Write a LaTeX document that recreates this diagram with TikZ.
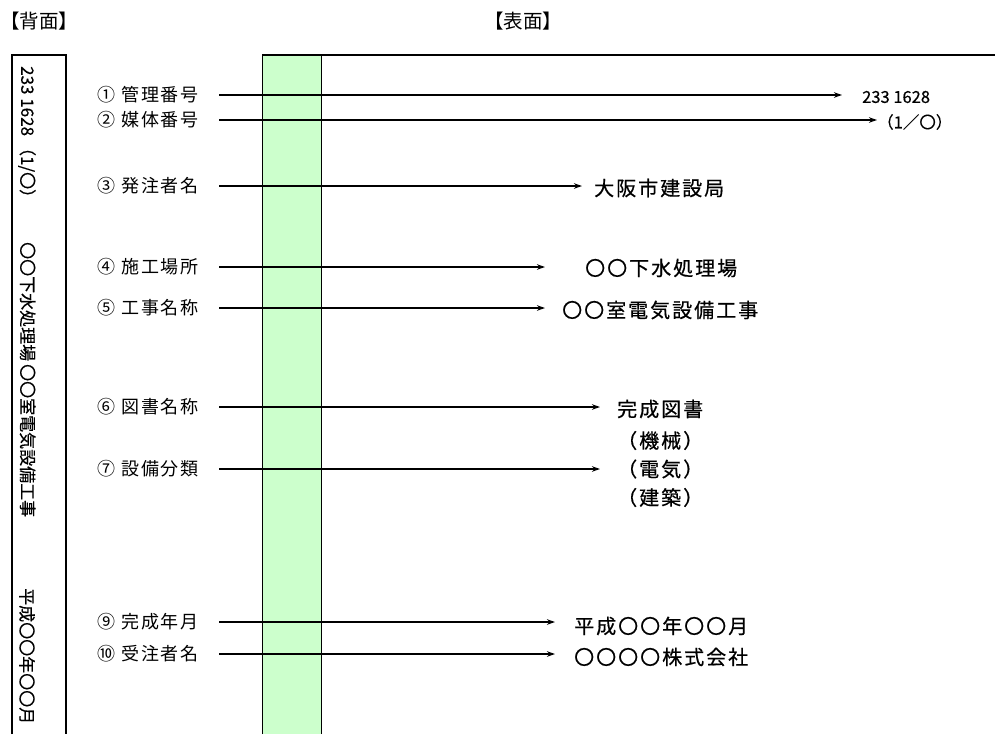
\documentclass[tikz,border=0pt]{standalone}
\usepackage{fontspec}
\setmainfont{Noto Sans CJK JP}
\newfontfamily\jp{Noto Sans CJK JP}
\newfontfamily\jpls[LetterSpace=10]{Noto Sans CJK JP}
\newfontfamily\jpbd[LetterSpace=10,FakeBold=0.6]{Noto Sans CJK JP}
\newfontfamily\jpsm[FakeBold=0.4]{Noto Sans CJK JP}
\usetikzlibrary{arrows.meta}
\definecolor{colgreen}{HTML}{CCFFCC}
\begin{document}
\begin{tikzpicture}[x=1pt,y=-1pt,
  lab/.style={anchor=east, inner sep=0pt, font=\jpls\fontsize{18}{18}\selectfont},
  val/.style={anchor=west, inner sep=0pt, font=\jpbd\fontsize{20}{20}\selectfont},
  small/.style={anchor=west, inner sep=0pt, font=\jpsm\fontsize{16.5}{16.5}\selectfont},
  head/.style={anchor=west, inner sep=0pt, font=\jp\fontsize{19.5}{19.5}\selectfont},
  back/.style={rotate=-90, anchor=west, inner sep=0pt, font=\jpsm\fontsize{17}{17}\selectfont},
  arr/.style={-{Stealth[length=8pt,width=5.5pt]}, line width=1.7pt},
  frame/.style={line width=1.3pt}
]
\useasboundingbox (0,0) rectangle (995,734);

% headers
\node[head] (hback) at (0,21) {【背面】};
\node[head] (hfront) at (484,21) {【表面】};

% back side strip
\draw[frame] (12,734) -- (12,55) -- (66,55) -- (66,734);
\node[back] (b1) at (27,66) {233 1628\hspace{3pt}（1/〇）\hspace{36pt}〇〇下水処理場\hspace{3pt}〇〇室電気設備工事};
\node[back] (b2) at (27,588) {平成〇〇年〇〇月};

% front side
\fill[colgreen] (262,55) rectangle (321,734);
\draw[line width=1pt] (262,734) -- (262,55);
\draw[line width=1pt] (321,734) -- (321,55);
\draw[frame] (262,55) -- (995,55);

% left labels
\node[lab] (l1) at (199,95) {① 管理番号};
\node[lab] (l2) at (199,120) {② 媒体番号};
\node[lab] (l3) at (199,186) {③ 発注者名};
\node[lab] (l4) at (199,267) {④ 施工場所};
\node[lab] (l5) at (199,308) {⑤ 工事名称};
\node[lab] (l6) at (199,407) {⑥ 図書名称};
\node[lab] (l7) at (199,469) {⑦ 設備分類};
\node[lab] (l9) at (199,622) {⑨ 完成年月};
\node[lab] (l10) at (199,654) {⑩ 受注者名};

% values
\node[small] (v1) at (862,97) {233 1628};
\node[small] (v2) at (877,122) {（1／〇）};
\node[val] (v3) at (594,188) {大阪市建設局};
\node[val] (v4) at (585,268) {〇〇下水処理場};
\node[val] (v5) at (562,310) {〇〇室電気設備工事};
\node[val] (v6) at (617,409) {完成図書};
\node[val, align=left, font=\jpbd\fontsize{20}{28.5}\selectfont] (v7) at (617,469) {（機械）\\（電気）\\（建築）};
\node[val] (v9) at (574,626) {平成〇〇年〇〇月};
\node[val] (v10) at (574,657) {〇〇〇〇株式会社};

% connectors
\draw[arr] ([xshift=20pt]l1.east) -- ([xshift=-20pt]v1.west |- l1.east);
\draw[arr] ([xshift=20pt]l2.east) -- ([xshift=0pt]v2.west |- l2.east);
\draw[arr] ([xshift=20pt]l3.east) -- ([xshift=-12pt]v3.west |- l3.east);
\draw[arr] ([xshift=20pt]l4.east) -- ([xshift=-40pt]v4.west |- l4.east);
\draw[arr] ([xshift=20pt]l5.east) -- ([xshift=-17pt]v5.west |- l5.east);
\draw[arr] ([xshift=20pt]l6.east) -- ([xshift=-17pt]v6.west |- l6.east);
\draw[arr] ([xshift=20pt]l7.east) -- ([xshift=-17pt]v7.west |- l7.east);
\draw[arr] ([xshift=20pt]l9.east) -- ([xshift=-19pt]v9.west |- l9.east);
\draw[arr] ([xshift=20pt]l10.east) -- ([xshift=-19pt]v10.west |- l10.east);
\end{tikzpicture}
\end{document}
